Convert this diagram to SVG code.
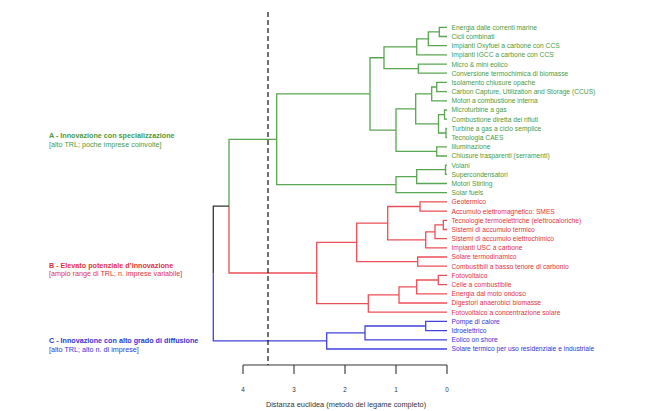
<svg xmlns="http://www.w3.org/2000/svg" width="650" height="411" viewBox="0 0 650 411">
<style>
text{font-family:"Liberation Sans",Arial,sans-serif}
.lf{font-size:6.7px}
.g{fill:#4a9a42}.r{fill:#e2323e}.b{fill:#3434d6}
.cl{font-size:7.2px;font-weight:bold}
.cs{font-size:7.2px}
.e{fill:none;stroke-width:1.3}
.eg{stroke:#5aa552}.er{stroke:#ea5058}.eb{stroke:#4242dc}.ek{stroke:#333}
.ax{fill:none;stroke:#333;stroke-width:1.1}
.tk{font-size:6.3px;fill:#333;text-anchor:middle}
</style>
<rect width="650" height="411" fill="#fff"/>
<g id="connectors">
<g class="e eg">
<path d="M447 27.3H439.3V36.5H447"/>
<path d="M439.3 31.9H428.3V45.7H447"/>
<path d="M428.3 38.8H416.7V54.9H447"/>
<path d="M447 64.1H418.3V73.2H447"/>
<path d="M416.7 46.85H384V68.65H418.3"/>
<path d="M447 82.4H436.7V91.6H447"/>
<path d="M436.7 87H431.7V100.8H447"/>
<path d="M447 110H444.5V119.2H447"/>
<path d="M447 128.4H446V137.6H447"/>
<path d="M444.5 114.6H438.5V133H446"/>
<path d="M431.7 93.9H415.7V123.8H438.5"/>
<path d="M447 146.8H436.7V156H447"/>
<path d="M415.7 108.85H396V151.4H436.7"/>
<path d="M384 57.75H370V130.1H396"/>
<path d="M447 165.1H445.5V174.3H447"/>
<path d="M445.5 169.7H416.7V183.5H447"/>
<path d="M416.7 176.6H396V192.7H447"/>
<path d="M370 93.9H276.7V184.65H396"/>
<path d="M276.7 139.3H229V206.15"/>
</g>
<g class="e er">
<path d="M447 201.9H420V211.1H447"/>
<path d="M447 220.3H443.3V229.5H447"/>
<path d="M443.3 224.9H435V238.7H447"/>
<path d="M435 231.8H425.7V247.9H447"/>
<path d="M420 206.5H387.7V239.85H425.7"/>
<path d="M447 257H417.7V266.2H447"/>
<path d="M387.7 223.2H356.7V261.6H417.7"/>
<path d="M447 275.4H438.3V284.6H447"/>
<path d="M438.3 280H416.7V293.8H447"/>
<path d="M416.7 286.9H399V303H447"/>
<path d="M399 294.95H368.3V312.2H447"/>
<path d="M356.7 242.4H316.7V303.6H368.3"/>
<path d="M229 206.15V273H316.7"/>
</g>
<g class="e eb">
<path d="M447 321.4H425.7V330.6H447"/>
<path d="M425.7 326H365V339.8H447"/>
<path d="M365 332.9H326.7V349H447"/>
<path d="M213.3 273.55V340.95H326.7"/>
</g>
<path class="e ek" d="M229 206.15H213.3V273.55"/>
</g>
<g id="axis">
<path class="ax" d="M243 365H447M243 365V374M294 365V374M345 365V374M396 365V374M447 365V374"/>
<text class="tk" x="243" y="392">4</text>
<text class="tk" x="294" y="392">3</text>
<text class="tk" x="345" y="392">2</text>
<text class="tk" x="396" y="392">1</text>
<text class="tk" x="447" y="392">0</text>
<text x="346" y="406.5" style="font-size:7.4px;fill:#333;text-anchor:middle">Distanza euclidea (metodo del legame completo)</text>
</g>
<g id="cutoff"><path d="M268 12V365" stroke="#111" stroke-width="1.2" stroke-dasharray="5,3" fill="none"/></g>
<g id="cluster-A"><text class="cl g" x="49" y="137.5">A - Innovazione con specializzazione</text><text class="cs g" x="49" y="146.5">[alto TRL; poche imprese coinvolte]</text></g>
<g id="cluster-B"><text class="cl r" x="49" y="267.5">B - Elevato potenziale d’innovazione</text><text class="cs r" x="49" y="276">[ampio range di TRL; n. imprese variabile]</text></g>
<g id="cluster-C"><text class="cl b" x="49" y="342.5">C - Innovazione con alto grado di diffusione</text><text class="cs b" x="49" y="351.5">[alto TRL; alto n. di imprese]</text></g>
<g id="leaves" class="lf">
<g id="l1"><text class="g" x="451.5" y="29.7">Energia dalle correnti marine</text></g>
<g id="l2"><text class="g" x="451.5" y="38.9">Cicli combinati</text></g>
<g id="l3"><text class="g" x="451.5" y="48.1">Impianti Oxyfuel a carbone con CCS</text></g>
<g id="l4"><text class="g" x="451.5" y="57.3">Impianti IGCC a carbone con CCS</text></g>
<g id="l5"><text class="g" x="451.5" y="66.5">Micro &amp; mini eolico</text></g>
<g id="l6"><text class="g" x="451.5" y="75.6">Conversione termochimica di biomasse</text></g>
<g id="l7"><text class="g" x="451.5" y="84.8">Isolamento chiusure opache</text></g>
<g id="l8"><text class="g" x="451.5" y="94">Carbon Capture, Utilization and Storage (CCUS)</text></g>
<g id="l9"><text class="g" x="451.5" y="103.2">Motori a combustione interna</text></g>
<g id="l10"><text class="g" x="451.5" y="112.4">Microturbine a gas</text></g>
<g id="l11"><text class="g" x="451.5" y="121.6">Combustione diretta dei rifiuti</text></g>
<g id="l12"><text class="g" x="451.5" y="130.8">Turbine a gas a ciclo semplice</text></g>
<g id="l13"><text class="g" x="451.5" y="140">Tecnologia CAES</text></g>
<g id="l14"><text class="g" x="451.5" y="149.2">Illuminazione</text></g>
<g id="l15"><text class="g" x="451.5" y="158.4">Chiusure trasparenti (serramenti)</text></g>
<g id="l16"><text class="g" x="451.5" y="167.5">Volani</text></g>
<g id="l17"><text class="g" x="451.5" y="176.7">Supercondensatori</text></g>
<g id="l18"><text class="g" x="451.5" y="185.9">Motori Stirling</text></g>
<g id="l19"><text class="g" x="451.5" y="195.1">Solar fuels</text></g>
<g id="l20"><text class="r" x="451.5" y="204.3">Geotermico</text></g>
<g id="l21"><text class="r" x="451.5" y="213.5">Accumulo elettromagnetico: SMES</text></g>
<g id="l22"><text class="r" x="451.5" y="222.7">Tecnologie termoelettriche (elettrocaloriche)</text></g>
<g id="l23"><text class="r" x="451.5" y="231.9">Sistemi di accumulo termico</text></g>
<g id="l24"><text class="r" x="451.5" y="241.1">Sistemi di accumulo elettrochimico</text></g>
<g id="l25"><text class="r" x="451.5" y="250.3">Impianti USC a carbone</text></g>
<g id="l26"><text class="r" x="451.5" y="259.4">Solare termodinamico</text></g>
<g id="l27"><text class="r" x="451.5" y="268.6">Combustibili a basso tenore di carbonio</text></g>
<g id="l28"><text class="r" x="451.5" y="277.8">Fotovoltaico</text></g>
<g id="l29"><text class="r" x="451.5" y="287">Celle a combustibile</text></g>
<g id="l30"><text class="r" x="451.5" y="296.2">Energia dal moto ondoso</text></g>
<g id="l31"><text class="r" x="451.5" y="305.4">Digestori anaerobici biomasse</text></g>
<g id="l32"><text class="r" x="451.5" y="314.6">Fotovoltaico a concentrazione solare</text></g>
<g id="l33"><text class="b" x="451.5" y="323.8">Pompe di calore</text></g>
<g id="l34"><text class="b" x="451.5" y="333">Idroelettrico</text></g>
<g id="l35"><text class="b" x="451.5" y="342.2">Eolico on shore</text></g>
<g id="l36"><text class="b" x="451.5" y="351.4">Solare termico per uso residenziale e industriale</text></g>
</g>
</svg>
